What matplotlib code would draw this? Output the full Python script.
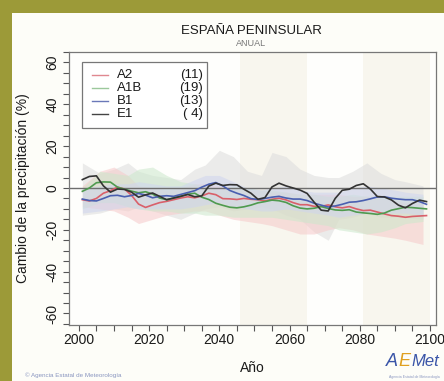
import matplotlib
matplotlib.use("Agg")
import matplotlib.pyplot as plt
from matplotlib.patches import Rectangle
from matplotlib.ticker import MultipleLocator
import numpy as np

plt.rcParams['font.family'] = ['Liberation Sans', 'DejaVu Sans']
plt.rcParams['axes.unicode_minus'] = False

# smoothed ensemble means, every 2 years
years = np.arange(2001, 2100, 2)
a2 = [-5.6, -6.2, -5.0, -2.5, -1.3, 0.4, -0.5, -3.5, -7.7, -9.3,
      -8.1, -7.0, -6.4, -5.6, -4.8, -4.2, -4.7, -3.8, -2.5, -3.2,
      -5.1, -5.2, -5.5, -5.0, -5.4, -5.6, -6.2, -5.4, -4.9, -5.7,
      -7.0, -8.0, -8.0, -8.8, -8.8, -8.1, -9.0, -9.5, -8.9, -10.0,
      -10.8, -10.6, -11.5, -12.4, -13.2, -13.5, -14.0, -13.6, -13.4, -13.2]
a1b = [-1.6, 0.0, 2.5, 2.9, 2.8, 0.4, -0.6, -1.5, -2.3, -1.8,
       -2.9, -4.8, -5.6, -4.8, -4.0, -3.0, -2.5, -4.4, -5.5, -7.3,
       -8.3, -9.2, -9.5, -9.0, -8.2, -7.1, -6.5, -5.8, -6.1, -6.9,
       -8.5, -9.6, -10.0, -9.7, -8.9, -9.8, -10.5, -10.7, -10.4, -11.5,
       -11.9, -12.2, -12.6, -12.0, -10.6, -9.9, -9.2, -9.4, -9.7, -10.0]
b1 = [-5.3, -6.0, -6.2, -5.0, -3.7, -3.5, -4.2, -3.6, -2.6, -3.4,
      -4.7, -4.0, -3.7, -4.0, -3.1, -2.2, -1.3, 0.4, 1.8, 2.6,
      1.0, -1.2, -2.5, -3.6, -5.1, -5.5, -5.0, -4.4, -4.0, -4.8,
      -5.3, -5.3, -6.0, -7.3, -8.2, -9.1, -8.6, -7.8, -6.8, -6.6,
      -6.0, -5.2, -4.3, -4.2, -4.9, -5.3, -5.6, -5.6, -6.5, -7.8]
e1 = [4.0, 5.5, 5.8, 1.0, -2.0, -0.5, -0.7, -2.0, -4.4, -3.3,
      -2.4, -4.0, -5.6, -4.8, -4.0, -3.1, -4.2, -3.8, 0.9, 2.3,
      1.2, 1.6, 1.5, -0.6, -2.5, -5.4, -4.6, 0.5, 2.3, 1.0,
      0.0, -1.0, -2.6, -6.8, -10.6, -11.0, -5.0, -1.1, -0.6, 1.2,
      2.0, -0.5, -4.1, -4.3, -5.7, -8.2, -9.5, -7.4, -5.8, -6.5]

# model spread (min / max) per scenario
band_years = [2001, 2006, 2010, 2014, 2017, 2021, 2025, 2029, 2033, 2036,
              2040, 2044, 2048, 2052, 2055, 2059, 2063, 2067, 2071, 2074,
              2078, 2082, 2086, 2090, 2093, 2098]
e1_hi = [12, 7, 9, 12, 8, 6, 5, 4, 9, 11, 18, 15, 8, 6, 17, 15, 9, 6, 5, 5, 8, 12, 7, 4, 3, 1]
e1_lo = [-13, -12, -10, -11, -9, -11, -13, -15, -12, -10, -9, -11, -10, -9, -10, -13, -15, -21, -25, -15,
         -14, -12, -14, -14, -14, -15]
a2_hi = [1, 8, 10, 6, 1, 0, -1, 0, 2, 2, 1, 0, -1, -1, -2, -2, -3, -3, -3, -3, -4, -4, -5, -6, -7, -6]
a2_lo = [-9, -10, -11, -14, -17, -15, -13, -12, -11, -11, -13, -15, -16, -17, -18, -20, -22, -22, -20, -19,
         -20, -22, -23, -24, -25, -27]
a1b_hi = [0, 8, 7, 6, 9, 10, 6, 3, 2, 1, -1, 1, 0, -1, -1, -2, -3, -3, -4, -4, -3, -4, -4, -4, -4, -4]
a1b_lo = [-10, -7, -7, -9, -10, -11, -11, -12, -12, -13, -13, -14, -14, -14, -14, -15, -16, -17, -18, -20,
          -21, -22, -21, -19, -17, -16]
b1_hi = [0, 1, 2, 2, 3, 2, 1, 1, 4, 6, 6, 3, 0, -1, 0, 1, -1, -2, -2, -2, 0, 1, 0, -1, -2, -3]
b1_lo = [-12, -11, -10, -9, -10, -10, -10, -10, -9, -8, -7, -9, -10, -11, -11, -10, -11, -12, -13, -14,
         -13, -12, -12, -12, -12, -13]

scenarios = ['A2', 'A1B', 'B1', 'E1']
n_models = [11, 19, 13, 4]
periods = [(2046, 2065), (2081, 2100)]

line_colors = {'A2': '#d9606a', 'A1B': '#4f9a4f', 'B1': '#4a5fb0', 'E1': '#333333'}
leg_colors = {'A2': '#e08890', 'A1B': '#9cc89c', 'B1': '#6a78b8', 'E1': '#444444'}
band_colors = {'A2': '#f6c9c9', 'A1B': '#cbe8cb', 'B1': '#cfd5ef', 'E1': '#dcdcdc'}
means = {'A2': a2, 'A1B': a1b, 'B1': b1, 'E1': e1}
bands = {'E1': (e1_lo, e1_hi), 'A2': (a2_lo, a2_hi),
         'A1B': (a1b_lo, a1b_hi), 'B1': (b1_lo, b1_hi)}

fig = plt.figure(figsize=(4.44, 3.81), dpi=100)
fig.patch.set_facecolor('#9c9a38')
fig.patches.append(Rectangle((12 / 444, 0), 1, 1 - 13 / 381, transform=fig.transFigure,
                             facecolor='#fdfdf8', edgecolor='none', zorder=-5))

ax = fig.add_axes([69 / 444, 56 / 381, 367 / 444, 273 / 381])
ax.set_facecolor('#fefefc')

for p0, p1 in periods:
    ax.axvspan(p0, p1, color='#f8f6ee', lw=0, zorder=0)

for s in ['E1', 'A2', 'A1B', 'B1']:
    lo, hi = bands[s]
    ax.fill_between(band_years, lo, hi, color=band_colors[s], alpha=0.55, lw=0, zorder=1)

ax.axhline(0, color='#6e6e6e', lw=1.0, zorder=2)

for s in ['A2', 'A1B', 'B1', 'E1']:
    ax.plot(years, means[s], color=line_colors[s], lw=1.2, zorder=3)

ax.set_xlim(1997.2, 2101.7)
ax.set_ylim(-65.5, 65)
ax.set_xticks(range(2000, 2101, 20))
ax.set_yticks(range(-60, 61, 20))
ax.xaxis.set_minor_locator(MultipleLocator(5))
ax.yaxis.set_minor_locator(MultipleLocator(5))
ax.tick_params(which='both', direction='out', length=4, width=0.8, color='#555555',
               labelsize=10, labelcolor='#1a1a1a', top=False, right=False)
ax.tick_params(axis='x', pad=1.5)
ax.tick_params(axis='y', pad=3)
for lab in ax.get_yticklabels():
    lab.set_rotation(90)
    lab.set_va('center')
for sp in ax.spines.values():
    sp.set_color('#777777')
    sp.set_linewidth(0.9)

ax.set_ylabel('Cambio de la precipitación (%)', fontsize=10, color='#1a1a1a')
ax.yaxis.set_label_coords(-0.106, 0.5)
ax.set_xlabel('Año', fontsize=10, color='#1a1a1a')
ax.xaxis.set_label_coords(0.5, -0.132)

# legend box
ax.add_patch(Rectangle((0.035, 0.72), 0.34, 0.245, transform=ax.transAxes,
                       facecolor='white', edgecolor='#777777', lw=0.9, zorder=4))
for i, (s, n) in enumerate(zip(scenarios, n_models)):
    yy = 0.915 - i * 0.047
    ax.plot([0.062, 0.105], [yy, yy], transform=ax.transAxes,
            color=leg_colors[s], lw=1.0, zorder=5)
    ax.text(0.13, yy, s, transform=ax.transAxes, fontsize=9.5, va='center',
            color='#1a1a1a', zorder=5)
    ax.text(0.364, yy, '(%2d)' % n if n >= 10 else '( %d)' % n, transform=ax.transAxes,
            fontsize=9.5, va='center', ha='right', color='#1a1a1a', zorder=5)

fig.text(251 / 444, 1 - 31 / 381, 'ESPAÑA PENINSULAR', ha='center', va='center',
         fontsize=9.5, color='#1a1a1a')
fig.text(251 / 444, 1 - 44 / 381, 'ANUAL', ha='center', va='center',
         fontsize=6.5, color='#777777')

fig.text(25 / 444, 1 - 375 / 381, '© Agencia Estatal de Meteorología', ha='left',
         va='center', fontsize=4.5, color='#8a96c0')

# AEMet logo
logo_y = 1 - 361 / 381
fig.text(386 / 444, logo_y, 'A', fontsize=13, style='italic', color='#3a55a8',
         ha='left', va='center')
fig.text(398 / 444, logo_y, 'E', fontsize=13, style='italic', color='#e0a020',
         ha='left', va='center')
fig.text(411 / 444, logo_y, 'Met', fontsize=12, style='italic', color='#3a55a8',
         ha='left', va='center')
fig.text(414 / 444, 1 - 377 / 381, 'Agencia Estatal de Meteorología', fontsize=2.5,
         color='#8a96c0', ha='center', va='center')

fig.savefig('out.png', dpi=100, facecolor=fig.get_facecolor())
